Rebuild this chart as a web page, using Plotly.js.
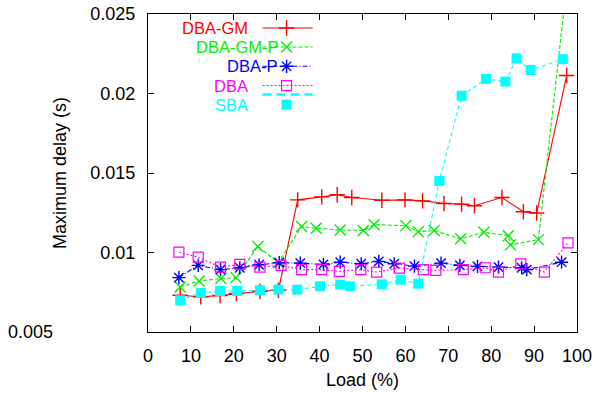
<!DOCTYPE html>
<html><head><meta charset="utf-8">
<script src="https://cdn.plot.ly/plotly-3.0.1.min.js"></script>
<style>html,body{margin:0;padding:0;background:#fff}#chart{width:594px;height:394px}</style>
</head><body><div id="chart"></div>
<script>
// Data (Load %, Maximum delay s)
var gmX  = [7.5,12.3,16.8,20.6,26.1,30.4,34.9,40.5,44.1,47.5,54.5,59.9,64.0,69.0,73.1,76.1,82.5,87.5,90.6,97.6];
var gmY  = [0.00731,0.00721,0.0073,0.00742,0.00756,0.00763,0.01331,0.0135,0.01363,0.01346,0.01329,0.01331,0.01325,0.01308,0.01304,0.01294,0.01346,0.01256,0.01248,0.02113];
var gmpX = [7.5,11.9,17.0,20.5,25.6,30.4,35.8,39.2,44.8,50.2,52.7,60.1,63.0,66.7,72.9,78.3,84.0,84.5,91.0,97.5];
var gmpY = [0.00783,0.00821,0.00836,0.00842,0.01038,0.00936,0.01163,0.01152,0.01142,0.01138,0.01175,0.01169,0.01131,0.01138,0.01086,0.01127,0.01106,0.01048,0.01081,0.0266];
var pX   = [7.2,11.7,16.9,21.4,25.9,30.6,35.5,40.9,44.8,49.7,53.8,57.4,62.1,68.3,72.7,76.8,81.7,87.1,88.3,96.4];
var pY   = [0.00842,0.00919,0.00892,0.00904,0.00923,0.00936,0.00933,0.00925,0.00939,0.00929,0.00944,0.00929,0.00914,0.00933,0.00919,0.00913,0.00908,0.00904,0.00892,0.00939];
var dbaX = [7.2,11.7,16.9,21.4,26.1,31.0,35.8,40.5,44.6,49.6,53.3,58.6,64.2,67.1,73.5,78.6,81.7,86.9,92.4,97.9];
var dbaY = [0.01002,0.00971,0.00908,0.00925,0.00908,0.00919,0.00892,0.00892,0.00881,0.00892,0.00877,0.00902,0.00892,0.00888,0.00892,0.00904,0.00877,0.00929,0.00877,0.01061];
var sbaX = [7.5,12.3,16.8,20.8,26.1,30.4,34.8,40.1,44.8,47.1,54.5,58.9,63.0,67.9,73.1,78.8,83.3,85.9,89.2,96.7];
var sbaY = [0.0070,0.00746,0.00758,0.00758,0.00763,0.00767,0.00767,0.00788,0.00798,0.00788,0.0080,0.00829,0.00804,0.0145,0.01986,0.02092,0.02075,0.02221,0.02148,0.02216];

var seriesNames = ['DBA-GM','DBA-GM-P','DBA-P','DBA','SBA'];
var xTicks = [0,10,20,30,40,50,60,70,80,90,100];
var yTicks = [0.01,0.015,0.02,0.025];
var yTickText = ['0.01','0.015','0.02','0.025'];

var FONT = 'Liberation Sans, Arial, sans-serif';
var FS = 18;
var KEYFS = 16.5;
var styles = [
  {color:'#ff0000', dash:'solid',            symbol:'cross-thin-open', size:11, lw:1.4},
  {color:'#00ee00', dash:'4px,2px',          symbol:'x-thin-open',     size:11, lw:1.4},
  {color:'#0000ff', dash:'5px,2px,1px,2px',  symbol:'asterisk-open',   size:11, lw:1.4},
  {color:'#ff00ff', dash:'2px,2px',          symbol:'square-open',     size:10, lw:1.2},
  {color:'#00ffff', dash:'4px,3px',          symbol:'square',          size:10, lw:0}
];
var xs = [gmX,gmpX,pX,dbaX,sbaX];
var ys = [gmY,gmpY,pY,dbaY,sbaY];

var traces = [];
for (var i=0;i<5;i++){
  var s = styles[i];
  traces.push({
    x: xs[i], y: ys[i], name: seriesNames[i], type:'scatter', mode:'lines+markers',
    line:{color:s.color, width:1.1, dash:s.dash},
    marker:{symbol:s.symbol, size:s.size, color:s.color, line:{color:s.color, width:s.lw}},
    showlegend:false
  });
}

// custom gnuplot-style key (text left, sample right), on a hidden unit overlay axis
var keyRowsY = [0.956,0.896,0.8355,0.775,0.747];
var keyMarkY = [0.956,0.896,0.8355,0.775,0.715];
var keyTextX = [0.236,0.308,0.303,0.236,0.236];
var keyTextY = [0.956,0.896,0.8355,0.775,0.715];
var annotations = [];
for (var i=0;i<5;i++){
  var s = styles[i];
  traces.push({
    x:[0.267,0.384], y:[keyRowsY[i],keyRowsY[i]], xaxis:'x2', yaxis:'y2', mode:'lines',
    line:{color:s.color, width:(i===4?2.5:1.1), dash:(i===4?'9px,5px':s.dash)}, showlegend:false, hoverinfo:'skip'
  });
  traces.push({
    x:[0.323], y:[keyMarkY[i]], xaxis:'x2', yaxis:'y2', mode:'markers', cliponaxis:false,
    marker:{symbol:s.symbol, size:s.size, color:s.color, line:{color:s.color, width:s.lw}}, showlegend:false, hoverinfo:'skip'
  });
  annotations.push({
    xref:'paper', yref:'paper', x:keyTextX[i], y:keyTextY[i], xanchor:'right', yanchor:'middle',
    text:seriesNames[i], showarrow:false, borderpad:0, font:{family:FONT, size:KEYFS, color:s.color}
  });
}
// stray bottom tick label as in the reference
annotations.push({xref:'paper', yref:'paper', x:-0.217, y:0, xanchor:'right', yanchor:'middle',
  text:'0.005', showarrow:false, font:{family:FONT, size:FS, color:'#000'}});

var layout = {
  width:594, height:394,
  margin:{l:148, r:17, t:13.5, b:62, pad:0},
  paper_bgcolor:'#fff', plot_bgcolor:'#fff',
  font:{family:FONT, size:FS, color:'#000'},
  showlegend:false,
  xaxis:{range:[0,100], tickvals:xTicks, ticks:'inside', ticklen:6, tickcolor:'#000', tickwidth:1,
    showline:true, linecolor:'#000', linewidth:1.2, mirror:'ticks', showgrid:false, zeroline:false,
    ticklabelstandoff:7, tickfont:{family:FONT, size:FS},
    title:{text:'Load (%)', font:{family:FONT, size:FS}, standoff:8}},
  yaxis:{range:[0.005,0.025], tickvals:yTicks, ticktext:yTickText, ticks:'inside', ticklen:6, tickcolor:'#000', tickwidth:1,
    showline:true, linecolor:'#000', linewidth:1.2, mirror:'ticks', showgrid:false, zeroline:false,
    ticklabelstandoff:8, tickfont:{family:FONT, size:FS},
    title:{text:'Maximum delay (s)', font:{family:FONT, size:FS}, standoff:18}},
  xaxis2:{overlaying:'x', range:[0,1], visible:false, fixedrange:true},
  yaxis2:{overlaying:'y', range:[0,1], visible:false, fixedrange:true},
  annotations:annotations
};
Plotly.newPlot('chart', traces, layout, {staticPlot:true});
</script></body></html>
